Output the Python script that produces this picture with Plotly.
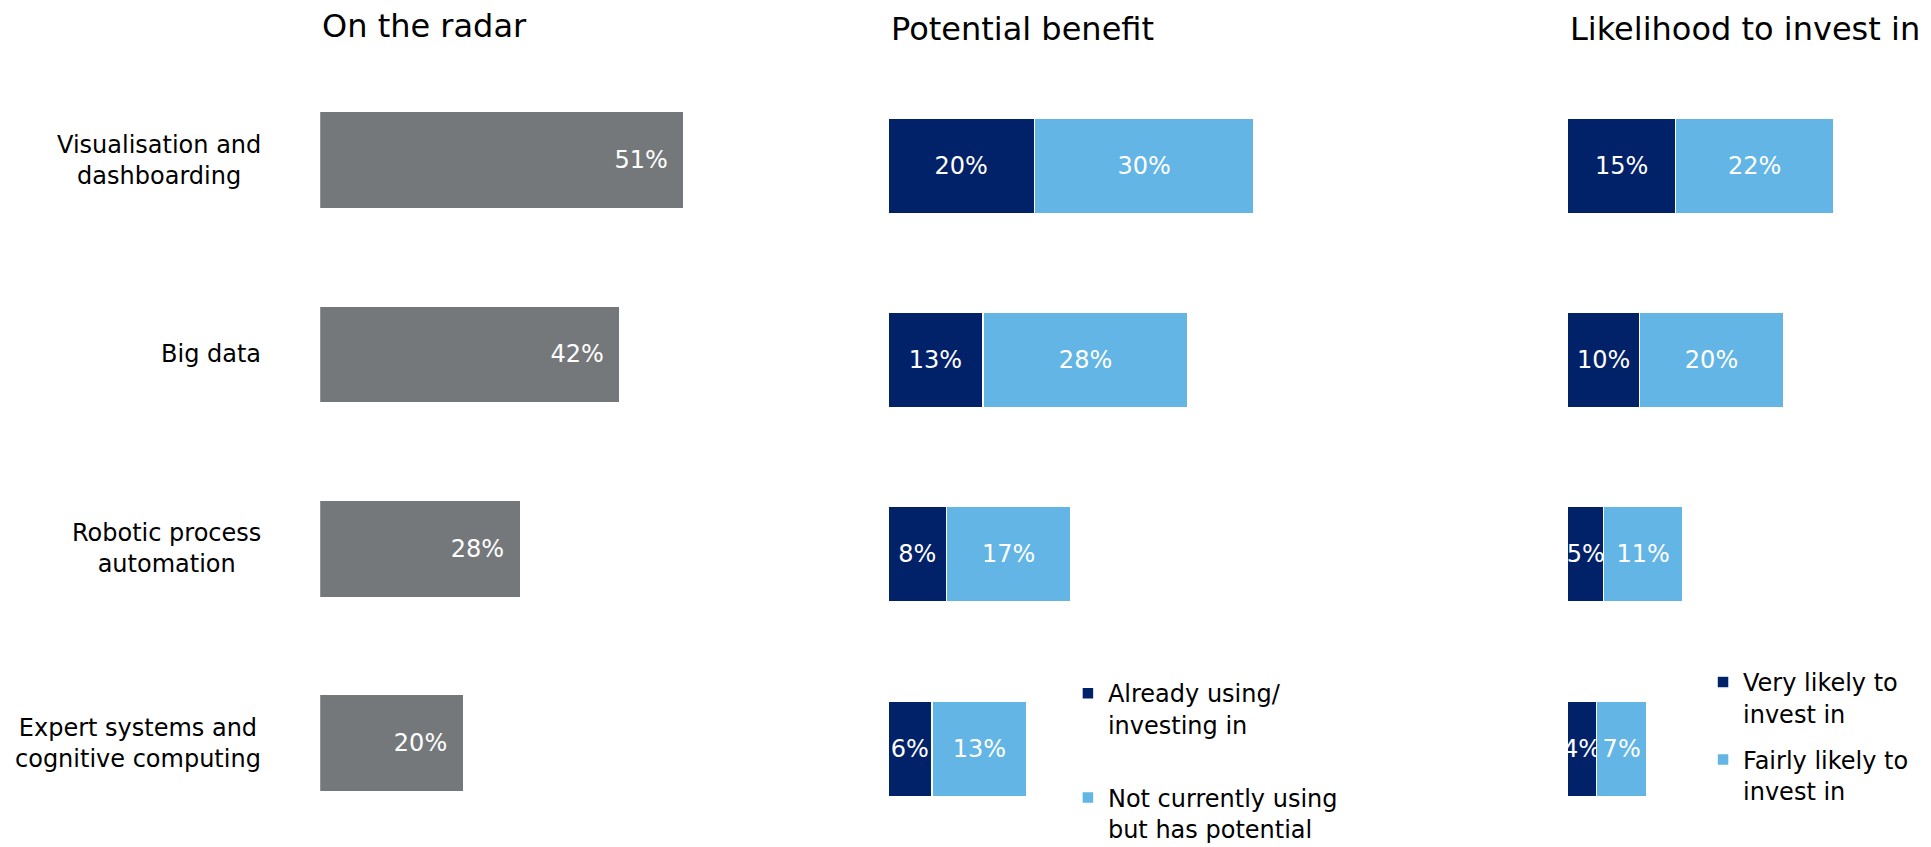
import plotly.graph_objects as go

# ---------------- data ----------------
categories = [
    "Visualisation and<br>dashboarding",
    "Big data",
    "Robotic process<br>automation",
    "Expert systems and<br>cognitive computing",
]
on_radar = [51, 42, 28, 20]
benefit_using = [20, 13, 8, 6]
benefit_potential = [30, 28, 17, 13]
likely_very = [15, 10, 5, 4]
likely_fairly = [22, 20, 11, 7]
panel_titles = ["On the radar", "Potential benefit", "Likelihood to invest in"]
legend_benefit = ["Already using/<br>investing in", "Not currently using<br>but has potential"]
legend_likely = ["Very likely to<br>invest in", "Fairly likely to<br>invest in"]

# ---------------- style ----------------
GRAY = "#75787B"
NAVY = "#012169"
LIGHT = "#62B5E5"
FONT = "DejaVu Sans, Verdana, sans-serif"
W, H = 1931, 847

fig = go.Figure()

fig.add_trace(go.Bar(
    y=categories, x=on_radar, orientation="h", xaxis="x", yaxis="y",
    marker=dict(color=GRAY, line=dict(width=0)),
    texttemplate="%{x}%\u00a0\u2009", textposition="inside", insidetextanchor="end",
    textangle=0, textfont=dict(color="white", size=24, family=FONT),
    showlegend=False, hoverinfo="skip",
))

for vals, col, name, grp in [(benefit_using, NAVY, legend_benefit[0], "b1"),
                             (benefit_potential, LIGHT, legend_benefit[1], "b2")]:
    fig.add_trace(go.Bar(
        y=categories, x=vals, orientation="h", xaxis="x2", yaxis="y2",
        marker=dict(color=col, line=dict(color="white", width=1.5)),
        texttemplate="%{x}%", textposition="inside", insidetextanchor="middle",
        textangle=0, textfont=dict(color="white", size=24, family=FONT),
        name=name, legend="legend", legendgroup=grp, hoverinfo="skip",
    ))

for vals, col, name, grp in [(likely_very, NAVY, legend_likely[0], "l1"),
                             (likely_fairly, LIGHT, legend_likely[1], "l2")]:
    fig.add_trace(go.Bar(
        y=categories, x=vals, orientation="h", xaxis="x3", yaxis="y3",
        marker=dict(color=col, line=dict(color="white", width=1.5)),
        texttemplate="%{x}%", textposition="inside", insidetextanchor="middle",
        textangle=0, textfont=dict(color="white", size=24, family=FONT),
        name=name, legend="legend2", legendgroup=grp, hoverinfo="skip",
    ))

ydom = [0.01724, 0.93530]
shift = 0.0288
ax_common = dict(visible=False, showgrid=False, zeroline=False, fixedrange=True)

annotations = []
title_pos = [(0.16157, 0.97875), (0.45624, 0.97521), (0.80787, 0.97521)]
for t, (x, y) in zip(panel_titles, title_pos):
    annotations.append(dict(text=t, x=x, y=y, xref="paper", yref="paper",
                            xanchor="left", yanchor="middle", showarrow=False,
                            font=dict(size=32, family=FONT, color="#000000")))
for c in categories:
    annotations.append(dict(text=c, x=0.13206, y=c, xref="paper", yref="y",
                            xanchor="right", yanchor="middle", align="center",
                            showarrow=False,
                            font=dict(size=24, family=FONT, color="#000000")))

fig.update_layout(
    width=W, height=H, autosize=False,
    margin=dict(l=0, r=0, t=0, b=0, pad=0, autoexpand=False),
    paper_bgcolor="white", plot_bgcolor="white",
    barmode="stack", bargap=0.509,
    uniformtext=dict(minsize=24, mode="show"),
    font=dict(family=FONT, size=24, color="#000000"),
    xaxis=dict(domain=[0.16168, 0.36447], range=[0, 55], anchor="y", **ax_common),
    yaxis=dict(domain=ydom, range=[3.5, -0.5], type="category",
               categoryarray=categories, anchor="x", **ax_common),
    xaxis2=dict(domain=[0.45567, 0.66416], range=[0, 55], anchor="y2", **ax_common),
    yaxis2=dict(domain=ydom, range=[3.5 - shift, -0.5 - shift], type="category",
                categoryarray=categories, anchor="x2", **ax_common),
    xaxis3=dict(domain=[0.80772, 0.97530], range=[0, 45], anchor="y3", **ax_common),
    yaxis3=dict(domain=ydom, range=[3.5 - shift, -0.5 - shift], type="category",
                categoryarray=categories, anchor="x3", **ax_common),
    legend=dict(x=0.5489, y=0.2172, xanchor="left", yanchor="top", valign="top",
                traceorder="grouped", tracegroupgap=39, bgcolor="rgba(0,0,0,0)",
                font=dict(size=24, family=FONT, color="#000000")),
    legend2=dict(x=0.8778, y=0.2302, xanchor="left", yanchor="top", valign="top",
                 traceorder="grouped", tracegroupgap=12, bgcolor="rgba(0,0,0,0)",
                 font=dict(size=24, family=FONT, color="#000000")),
    annotations=annotations,
    showlegend=True,
)

fig.write_html("out.html")
